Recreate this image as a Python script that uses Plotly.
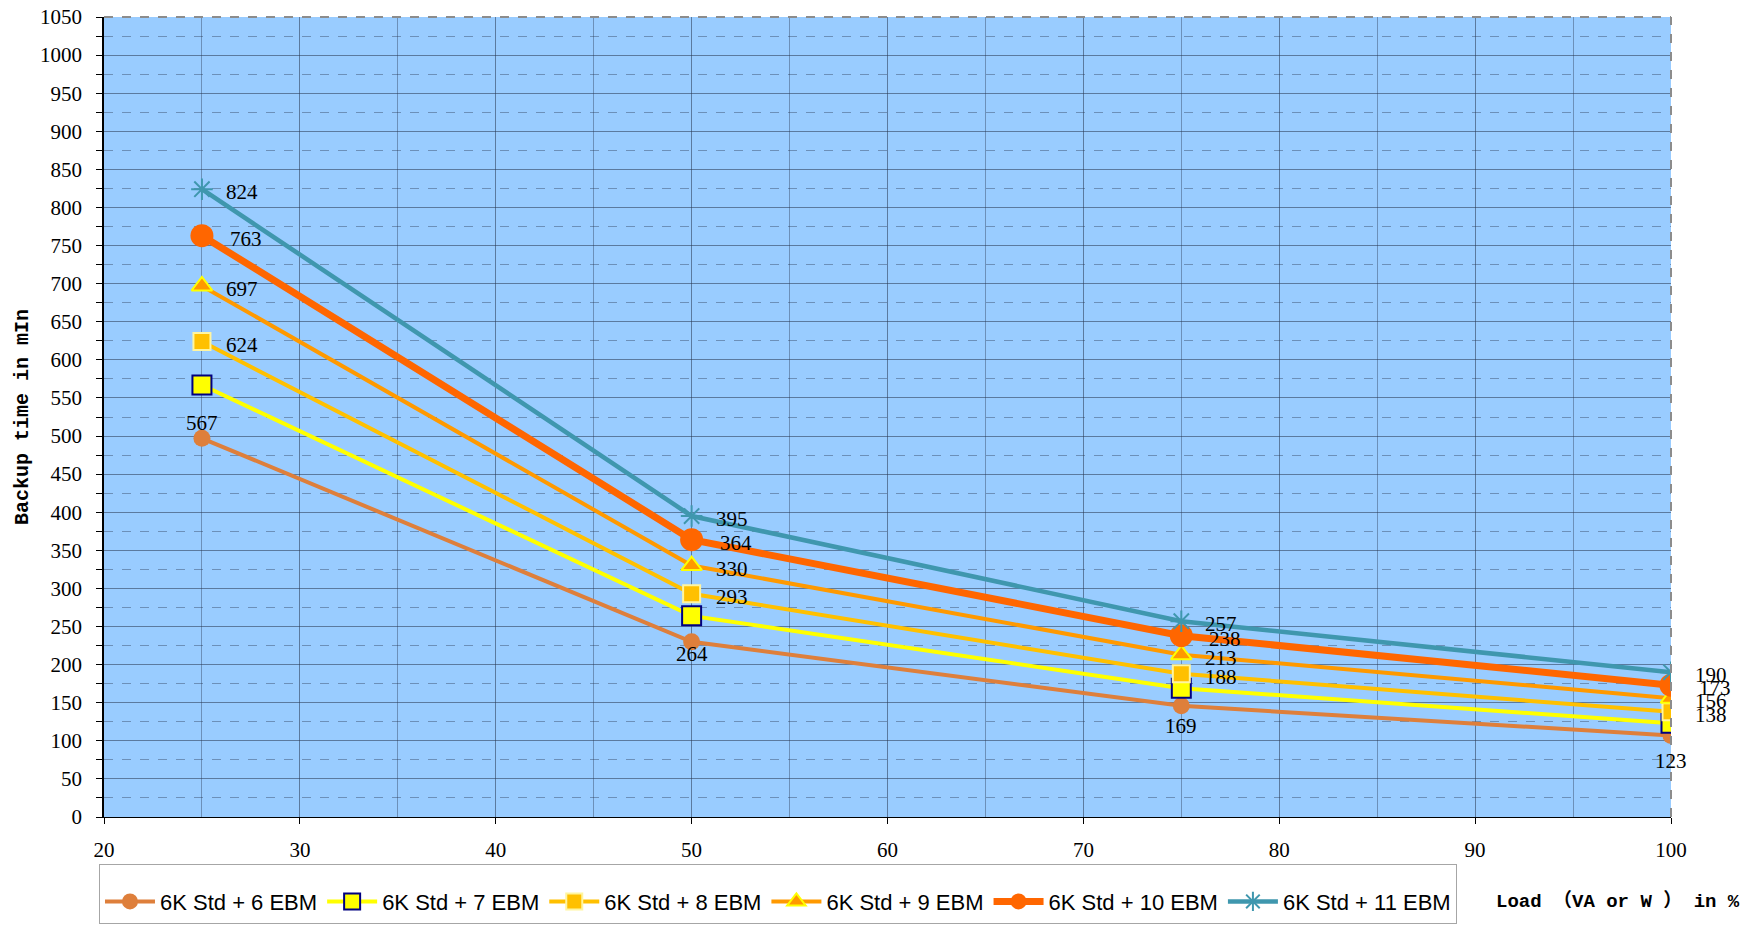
import plotly.graph_objects as go

load = [25, 50, 75, 100]
names = ["6K Std + 6 EBM", "6K Std + 7 EBM", "6K Std + 8 EBM",
         "6K Std + 9 EBM", "6K Std + 10 EBM", "6K Std + 11 EBM"]
ebm6 = [497, 230, 146, 107]
ebm7 = [567, 264, 169, 123]
ebm8 = [624, 293, 188, 138]
ebm9 = [697, 330, 213, 156]
ebm10 = [763, 364, 238, 173]
ebm11 = [824, 395, 257, 190]
series = [ebm6, ebm7, ebm8, ebm9, ebm10, ebm11]

line_colors = ["#DE7F3B", "#FFFF00", "#FFC000", "#FF9900", "#FF6600", "#3F97AE"]
line_widths = [4, 4, 4, 4, 7, 4.5]
markers = [
    dict(symbol="circle", size=17, color="#DE7F3B", line=dict(width=0)),
    dict(symbol="square", size=19, color="#FFFF00", line=dict(color="#000080", width=2)),
    dict(symbol="square", size=17, color="#FFC000", line=dict(color="#FFF5A0", width=2)),
    dict(symbol="triangle-up", size=18, color="#FF9900", line=dict(color="#FFFF00", width=2)),
    dict(symbol="circle", size=23, color="#FF6600", line=dict(width=0)),
    dict(symbol="asterisk-open", size=18, color="#3F97AE", line=dict(color="#3F97AE", width=2)),
]

fig = go.Figure()
for vals, nm, col, lw, mk in zip(series, names, line_colors, line_widths, markers):
    fig.add_trace(go.Scatter(x=load, y=vals, name=nm, mode="lines+markers",
                             line=dict(color=col, width=lw), marker=mk))

label_font = dict(family="Liberation Serif", size=21, color="black")
# labels: 7 EBM below the point, 8-11 EBM to the right
for x, v in zip(load, ebm7):
    fig.add_annotation(x=x, y=v, text=str(v), showarrow=False, xanchor="center",
                       yanchor="middle", yshift=-38, font=label_font)
for vals, xs in [(ebm8, 22), (ebm9, 22), (ebm10, 26), (ebm11, 22)]:
    for x, v in zip(load, vals):
        fig.add_annotation(x=x, y=v, text=str(v), showarrow=False, xanchor="left",
                           yanchor="middle", xshift=xs, yshift=-3, font=label_font)

grid_major = "rgba(40,55,80,0.55)"
grid_minor = "rgba(40,55,80,0.40)"
tick_font = dict(family="Liberation Serif", size=21, color="black")

fig.update_xaxes(range=[20, 100], dtick=10, tick0=20, showgrid=True, gridcolor=grid_major,
                 gridwidth=1, zeroline=False, showline=True, linecolor="black", linewidth=1,
                 ticks="outside", ticklen=6, tickcolor="black", tickfont=tick_font,
                 ticklabelstandoff=8, automargin=False,
                 minor=dict(dtick=5, showgrid=True, gridcolor=grid_minor, gridwidth=1))
fig.update_yaxes(range=[0, 1050], dtick=50, tick0=0, showgrid=True, gridcolor=grid_major,
                 gridwidth=1, zeroline=False, showline=True, linecolor="black", linewidth=1.5,
                 ticks="outside", ticklen=6, tickcolor="black", tickfont=tick_font,
                 ticklabelstandoff=10, automargin=False,
                 minor=dict(dtick=25, showgrid=True, gridcolor=grid_minor, griddash="dash",
                            gridwidth=1, ticks="outside", ticklen=6, tickcolor="black"))

fig.add_shape(type="line", xref="paper", yref="paper", x0=0, x1=1, y0=1, y1=1,
              line=dict(color="#8C8C8C", width=2, dash="dash"))
fig.add_shape(type="line", xref="paper", yref="paper", x0=1, x1=1, y0=0, y1=1,
              line=dict(color="#8C8C8C", width=2, dash="dash"))

axis_title_font = dict(family="Liberation Mono, Noto Sans CJK SC", size=20, color="black")
fig.add_annotation(xref="paper", yref="paper", x=-0.0523, y=0.50, text="<b>Backup time in mIn</b>",
                   textangle=-90, showarrow=False, xanchor="center", yanchor="middle",
                   font=axis_title_font)
fig.add_annotation(xref="paper", yref="paper", x=0.966, y=-0.105,
                   text="<b>Load （VA or W ） in %</b>", showarrow=False,
                   xanchor="center", yanchor="middle",
                   font=dict(family="Liberation Mono, Noto Sans CJK SC", size=19, color="black"))

fig.update_layout(
    width=1760, height=927,
    margin=dict(l=104, r=89, t=17, b=110, autoexpand=False),
    plot_bgcolor="#99CCFF", paper_bgcolor="white",
    showlegend=True,
    legend=dict(orientation="h", x=-0.0032, xanchor="left", y=-0.05875, yanchor="top",
                bordercolor="#A6A6A6", borderwidth=1, bgcolor="white",
                font=dict(family="Liberation Sans", size=22, color="black"),
                itemwidth=50,
                title=dict(text="\u00a0", side="top", font=dict(size=12))),
)

fig.write_html("out.html", config={"displayModeBar": False},
               post_script="document.body.style.margin='0';document.body.style.overflow='hidden';")
